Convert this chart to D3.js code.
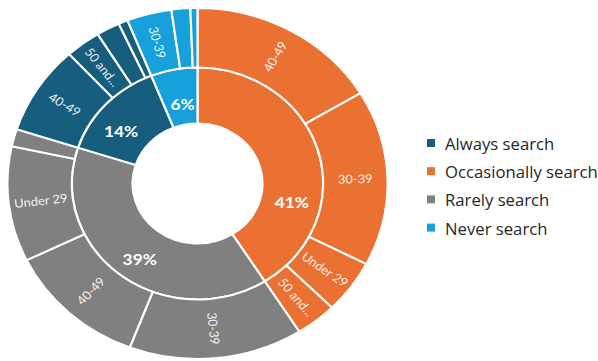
<!DOCTYPE html>
<html>
<head>
<meta charset="utf-8">
<script src="https://cdn.jsdelivr.net/npm/d3@7"></script>
<style>
  html, body { margin: 0; padding: 0; background: #fff; }
  svg { display: block; }
</style>
</head>
<body>
<svg id="chart" width="598" height="361"></svg>
<script>
// Search behaviour groups (inner ring) and their share in percent
const categories = ["Always search", "Occasionally search", "Rarely search", "Never search"];
const categoryValues = [14, 41, 39, 6];

// Age-group breakdown for each behaviour group (outer ring)
const alwaysAges = ["40-49", "50 and over", "30-39", "Under 29"];
const alwaysValues = [8.2, 3.0, 2.0, 0.8];
const occasionallyAges = ["40-49", "30-39", "Under 29", "50 and over"];
const occasionallyValues = [16.4, 16.2, 4.9, 3.5];
const rarelyAges = ["30-39", "40-49", "Under 29", "50 and over"];
const rarelyValues = [14.8, 12.0, 10.6, 1.6];
const neverAges = ["30-39", "40-49", "Under 29"];
const neverValues = [3.8, 1.6, 0.6];

const colors = {
  "Always search": "#165d7e",
  "Occasionally search": "#eb7133",
  "Rarely search": "#808080",
  "Never search": "#17a0da"
};

const breakdown = {
  "Always search": [alwaysAges, alwaysValues],
  "Occasionally search": [occasionallyAges, occasionallyValues],
  "Rarely search": [rarelyAges, rarelyValues],
  "Never search": [neverAges, neverValues]
};

// Build the hierarchy
const rootData = {
  name: "root",
  children: categories.map((c, i) => ({
    name: c,
    label: categoryValues[i],
    children: breakdown[c][0].map((a, j) => ({ name: a, value: breakdown[c][1][j] }))
  }))
};

const root = d3.hierarchy(rootData)
  .sum(d => d.value || 0)
  .sort((a, b) => b.value - a.value);

d3.partition().size([2 * Math.PI, 1])(root);

// Layout
const cx = 197.5, cy = 183.5, sx = 1.083;
const ringRadii = { 1: [60, 116], 2: [116, 175.5] };
// where the percentage label sits in each inner slice: fraction along the arc, radius
const innerLabelPos = {
  "Occasionally search": [0.69, 89],
  "Rarely search": [0.48, 93],
  "Always search": [0.37, 88],
  "Never search": [0.54, 80]
};

const svg = d3.select("#chart");
const g = svg.append("g").attr("transform", `translate(${cx},${cy}) scale(${sx},1)`);

const arc = d3.arc()
  .startAngle(d => d.x0)
  .endAngle(d => d.x1)
  .innerRadius(d => ringRadii[d.depth][0])
  .outerRadius(d => ringRadii[d.depth][1]);

const nodes = root.descendants().filter(d => d.depth > 0);
const topOf = d => d.depth === 1 ? d.data.name : d.parent.data.name;

g.selectAll("path.seg")
  .data(nodes)
  .join("path")
  .attr("class", "seg")
  .attr("d", arc)
  .attr("fill", d => colors[topOf(d)])
  .attr("stroke", "#fff")
  .attr("stroke-width", 2)
  .attr("stroke-linejoin", "miter");

// Percent labels on the inner ring
const inner = root.children;
g.selectAll("text.pct")
  .data(inner)
  .join("text")
  .attr("class", "pct")
  .attr("transform", d => {
    const [f, r] = innerLabelPos[d.data.name];
    const a = d.x0 + (d.x1 - d.x0) * f;
    return `translate(${r * Math.sin(a)},${-r * Math.cos(a)})`;
  })
  .attr("text-anchor", "middle")
  .attr("dominant-baseline", "central")
  .attr("fill", "#fff")
  .attr("font-family", "Lato, 'Open Sans', sans-serif")
  .attr("font-weight", "bold")
  .attr("font-size", 16)
  .text(d => d.data.label + "%");

// Age labels on the outer ring, set along the radius and truncated to fit
const outer = root.leaves();
const midR = (ringRadii[2][0] + ringRadii[2][1]) / 2;
const maxLen = 52;
const minArc = 24;

const labels = g.selectAll("text.age")
  .data(outer.filter(d => (d.x1 - d.x0) * midR >= minArc))
  .join("text")
  .attr("class", "age")
  .attr("transform", d => {
    const a = (d.x0 + d.x1) / 2;
    let rot = a * 180 / Math.PI - 90;
    if (rot > 90) rot -= 180;
    if (rot < -90) rot += 180;
    return `translate(${midR * Math.sin(a)},${-midR * Math.cos(a)}) rotate(${rot})`;
  })
  .attr("text-anchor", "middle")
  .attr("dominant-baseline", "central")
  .attr("fill", "#fff")
  .attr("fill-opacity", 0.92)
  .attr("font-family", "Lato, 'Open Sans', sans-serif")
  .attr("font-size", 12)
  .text(d => d.data.name);

labels.each(function(d) {
  const t = d3.select(this);
  const full = d.data.name;
  if (this.getComputedTextLength() <= maxLen) return;
  let n = full.length;
  while (n > 0) {
    n--;
    t.text(full.slice(0, n).trimEnd() + "...");
    if (this.getComputedTextLength() <= maxLen) break;
  }
});

// Legend
const legend = svg.append("g").attr("transform", "translate(427,143)");
const item = legend.selectAll("g")
  .data(categories)
  .join("g")
  .attr("transform", (d, i) => `translate(0,${i * 28.2})`);

item.append("rect")
  .attr("x", 0).attr("y", -4)
  .attr("width", 8).attr("height", 8)
  .attr("fill", d => colors[d]);

item.append("text")
  .attr("x", 18)
  .attr("y", 0.5)
  .attr("dominant-baseline", "central")
  .attr("fill", "#262626")
  .attr("font-family", "'Open Sans', sans-serif")
  .attr("font-size", 16.7)
  .text(d => d);
</script>
</body>
</html>
